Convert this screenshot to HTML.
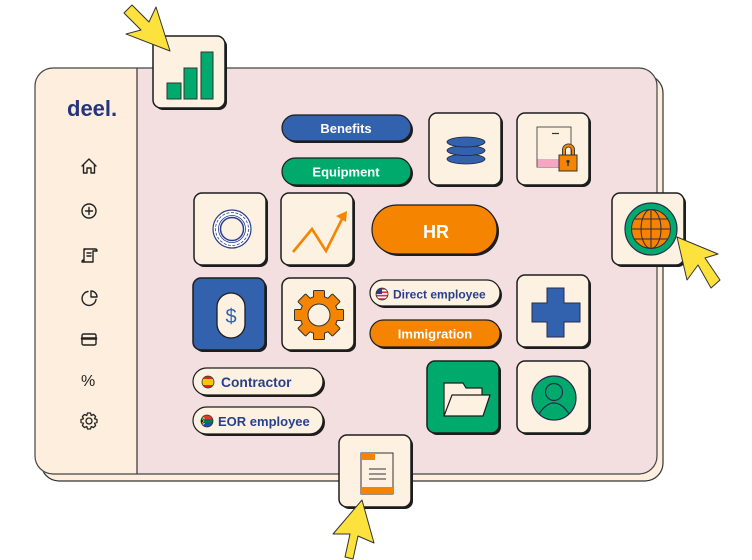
<!DOCTYPE html>
<html><head><meta charset="utf-8"><style>
html,body{margin:0;padding:0;background:#fff;width:752px;height:560px;overflow:hidden}
svg{display:block}
text{font-family:"Liberation Sans",sans-serif;font-weight:bold}
</style></head><body>
<svg width="752" height="560" viewBox="0 0 752 560" xmlns="http://www.w3.org/2000/svg">
<defs>
<clipPath id="cUS"><circle cx="382" cy="294" r="6"/></clipPath>
<clipPath id="cES"><circle cx="208" cy="382" r="6"/></clipPath>
<clipPath id="cZA"><circle cx="207" cy="421" r="6"/></clipPath>
</defs>
<!-- back panel -->
<rect x="41" y="75" width="622" height="406" rx="18" fill="#fdeedd" stroke="#333" stroke-width="1.2"/>
<!-- front panel -->
<rect x="35" y="68" width="622" height="406" rx="18" fill="#f3dfe0"/>
<path d="M137,68 L53,68 Q35,68 35,86 L35,456 Q35,474 53,474 L137,474 Z" fill="#fdeedd"/>
<line x1="137" y1="68" x2="137" y2="474" stroke="#333" stroke-width="1.2"/>
<rect x="35" y="68" width="622" height="406" rx="18" fill="none" stroke="#444" stroke-width="1.2"/>

<!-- logo -->
<text x="67" y="116" font-size="22" fill="#26357b">deel.</text>

<!-- sidebar icons -->
<g fill="none" stroke="#222" stroke-width="1.4" stroke-linejoin="round" stroke-linecap="round">
<path d="M82,166 L89,159 L96,166 M83.5,165 L83.5,173 L87,173 L87,168 L91,168 L91,173 L94.5,173 L94.5,165"/>
<circle cx="89" cy="211" r="7"/><path d="M89,207.5 V214.5 M85.5,211 H92.5"/>
<path d="M84,262 L84,249 L95,249 M86,249 Q84,249 84,251 M95,249 Q97,249 97,251 L93,251 L93,262 L82,262 Q82,260 84,260 M87,253 H91 M87,256 H91"/>
<path d="M88,291.5 A7,7 0 1 0 96,299.5"/><path d="M91,291 L91,297 L97,297 A6,6 0 0 0 91,291 Z"/>
<rect x="82" y="334" width="14" height="11" rx="1.5"/><line x1="82" y1="338.5" x2="96" y2="338.5" stroke-width="2.5"/>
</g>
<text x="81" y="386" font-size="16" font-weight="normal" fill="#222" style="font-weight:normal">%</text>
<g transform="translate(89,421)" fill="none" stroke="#222" stroke-width="1.3" stroke-linejoin="round">
<path d="M-1.5,-8 L1.5,-8 L2.2,-5.5 L4.5,-6.6 L6.6,-4.5 L5.5,-2.2 L8,-1.5 L8,1.5 L5.5,2.2 L6.6,4.5 L4.5,6.6 L2.2,5.5 L1.5,8 L-1.5,8 L-2.2,5.5 L-4.5,6.6 L-6.6,4.5 L-5.5,2.2 L-8,1.5 L-8,-1.5 L-5.5,-2.2 L-6.6,-4.5 L-4.5,-6.6 L-2.2,-5.5 Z"/>
<circle r="3"/>
</g>

<!-- tiles -->
<g stroke="#1d1d1d" stroke-width="1.5">
<g fill="#1d1d1d" stroke="none">
<rect x="155" y="38" width="72" height="72" rx="8"/>
<rect x="431" y="115" width="72" height="72" rx="8"/>
<rect x="519" y="115" width="72" height="72" rx="8"/>
<rect x="196" y="195" width="72" height="72" rx="8"/>
<rect x="283" y="195" width="72" height="72" rx="8"/>
<rect x="614" y="195" width="72" height="72" rx="8"/>
<rect x="195" y="280" width="72" height="72" rx="8"/>
<rect x="284" y="280" width="72" height="72" rx="8"/>
<rect x="519" y="277" width="72" height="72" rx="8"/>
<rect x="429" y="363" width="72" height="72" rx="8"/>
<rect x="519" y="363" width="72" height="72" rx="8"/>
<rect x="341" y="437" width="72" height="72" rx="8"/>
</g>
<rect x="153" y="36" width="72" height="72" rx="8" fill="#fdf2e2"/>
<rect x="429" y="113" width="72" height="72" rx="8" fill="#fdf2e2"/>
<rect x="517" y="113" width="72" height="72" rx="8" fill="#fdf2e2"/>
<rect x="194" y="193" width="72" height="72" rx="8" fill="#fdf2e2"/>
<rect x="281" y="193" width="72" height="72" rx="8" fill="#fdf2e2"/>
<rect x="612" y="193" width="72" height="72" rx="8" fill="#fdf2e2"/>
<rect x="193" y="278" width="72" height="72" rx="8" fill="#3261ad"/>
<rect x="282" y="278" width="72" height="72" rx="8" fill="#fdf2e2"/>
<rect x="517" y="275" width="72" height="72" rx="8" fill="#fdf2e2"/>
<rect x="427" y="361" width="72" height="72" rx="8" fill="#00aa6c"/>
<rect x="517" y="361" width="72" height="72" rx="8" fill="#fdf2e2"/>
<rect x="339" y="435" width="72" height="72" rx="8" fill="#fdf2e2"/>
</g>

<!-- pills -->
<g fill="#1d1d1d">
<rect x="284" y="117" width="129" height="26" rx="13"/>
<rect x="284" y="160" width="129" height="27" rx="13.5"/>
<rect x="374" y="207" width="125" height="49" rx="24.5"/>
<rect x="372" y="282" width="130" height="26" rx="13"/>
<rect x="372" y="322" width="130" height="27" rx="13.5"/>
<rect x="195" y="370" width="130" height="27" rx="13.5"/>
<rect x="195" y="409" width="130" height="27" rx="13.5"/>
</g>
<g stroke="#1d1d1d" stroke-width="1.2">
<rect x="282" y="115" width="129" height="26" rx="13" fill="#3261ad"/>
<rect x="282" y="158" width="129" height="27" rx="13.5" fill="#00aa6c"/>
<rect x="372" y="205" width="125" height="49" rx="24.5" fill="#f58400"/>
<rect x="370" y="280" width="130" height="26" rx="13" fill="#fdf2e2"/>
<rect x="370" y="320" width="130" height="27" rx="13.5" fill="#f58400"/>
<rect x="193" y="368" width="130" height="27" rx="13.5" fill="#fdf2e2"/>
<rect x="193" y="407" width="130" height="27" rx="13.5" fill="#fdf2e2"/>
</g>
<text x="346" y="133" font-size="13" fill="#fff" text-anchor="middle">Benefits</text>
<text x="346" y="176.5" font-size="13" fill="#fff" text-anchor="middle">Equipment</text>
<text x="436" y="238" font-size="18" fill="#fff" text-anchor="middle">HR</text>
<text x="393" y="298.5" font-size="12" fill="#2a3f8c">Direct employee</text>
<text x="435" y="338.5" font-size="13" fill="#fff" text-anchor="middle">Immigration</text>
<text x="221" y="387" font-size="13.8" fill="#2a3f8c">Contractor</text>
<text x="218" y="426" font-size="13" fill="#2a3f8c">EOR employee</text>

<!-- flags -->
<g clip-path="url(#cUS)">
<rect x="375" y="287" width="14" height="14" fill="#fff"/>
<rect x="375" y="288" width="14" height="1.7" fill="#d9333f"/>
<rect x="375" y="291.4" width="14" height="1.7" fill="#d9333f"/>
<rect x="375" y="294.8" width="14" height="1.7" fill="#d9333f"/>
<rect x="375" y="298.2" width="14" height="1.7" fill="#d9333f"/>
<rect x="375" y="287" width="7" height="7" fill="#2a3f8c"/>
</g>
<circle cx="382" cy="294" r="6" fill="none" stroke="#333" stroke-width="0.8"/>
<g clip-path="url(#cES)">
<rect x="201" y="375" width="14" height="14" fill="#d52b1e"/>
<rect x="201" y="379" width="14" height="6" fill="#f7c600"/>
</g>
<circle cx="208" cy="382" r="6" fill="none" stroke="#333" stroke-width="0.8"/>
<g clip-path="url(#cZA)">
<rect x="200" y="414" width="14" height="7" fill="#de3831"/>
<rect x="200" y="421" width="14" height="7" fill="#1d4fb0"/>
<path d="M200,414 L207,421 L214,421 L207,421 L200,428 Z" fill="#fff"/>
<rect x="200" y="419" width="14" height="4" fill="#007a4d"/>
<path d="M200,415 L206,421 L200,427 Z" fill="#007a4d"/>
<path d="M200,416.5 L204.5,421 L200,425.5 Z" fill="#ffb612"/>
<path d="M200,417.5 L203.5,421 L200,424.5 Z" fill="#111"/>
</g>
<circle cx="207" cy="421" r="6" fill="none" stroke="#333" stroke-width="0.8"/>

<!-- chart bars -->
<g fill="#00aa6c" stroke="#333" stroke-width="1">
<rect x="167" y="83" width="14" height="16"/>
<rect x="184" y="68" width="13" height="31"/>
<rect x="201" y="52" width="12" height="47"/>
</g>

<!-- database -->
<g fill="#3261ad" stroke="#223" stroke-width="0.8">
<ellipse cx="466" cy="159" rx="19" ry="5"/>
<ellipse cx="466" cy="150.5" rx="19" ry="5"/>
<ellipse cx="466" cy="142" rx="19" ry="5"/>
</g>

<!-- lock doc -->
<rect x="537" y="127" width="34" height="40" fill="#fdf2e2" stroke="#555" stroke-width="1"/>
<rect x="537.5" y="159" width="33" height="8" fill="#f4a6c3"/>
<line x1="552" y1="133.5" x2="559" y2="133.5" stroke="#333" stroke-width="1.2"/>
<path d="M564,157 L564,150 A4.5,4.5 0 0 1 573,150 L573,157" fill="none" stroke="#333" stroke-width="4"/>
<path d="M564,157 L564,150 A4.5,4.5 0 0 1 573,150 L573,157" fill="none" stroke="#f58400" stroke-width="2.2"/>
<rect x="559" y="155" width="18" height="16" fill="#f58400" stroke="#333" stroke-width="1"/>
<circle cx="568" cy="161.5" r="1.6" fill="#333"/><rect x="567.3" y="162" width="1.4" height="4" fill="#333"/>

<!-- circle ring -->
<g fill="none" stroke="#2a3f8c">
<circle cx="232" cy="229" r="19" fill="#fff" stroke-width="1.2"/>
<circle cx="232" cy="229" r="16.5" stroke-width="0.8" stroke-dasharray="3 1.5"/>
<circle cx="232" cy="229" r="13.5" stroke-width="0.8"/>
<circle cx="232" cy="229" r="11.5" fill="#fdf2e2" stroke-width="1.5"/>
</g>

<!-- trend -->
<polyline points="293,252 312,229 326,251 343,217" fill="none" stroke="#f58400" stroke-width="2.6" stroke-linejoin="miter"/>
<polygon points="347,211 346,222 336,216" fill="#f58400"/>

<!-- globe -->
<circle cx="651" cy="229" r="26" fill="#00aa6c" stroke="#2a2a4a" stroke-width="1.2"/>
<circle cx="651" cy="229" r="19.5" fill="#f58400" stroke="#2a2a4a" stroke-width="1"/>
<g fill="none" stroke="#2a2a4a" stroke-width="1">
<line x1="651" y1="209.5" x2="651" y2="248.5"/>
<ellipse cx="651" cy="229" rx="10" ry="19.5"/>
<line x1="631.5" y1="229" x2="670.5" y2="229"/>
<line x1="634" y1="219" x2="668" y2="219"/>
<line x1="634" y1="239" x2="668" y2="239"/>
</g>

<!-- dollar -->
<rect x="217" y="293" width="28" height="45" rx="14" fill="#fdf2e2" stroke="#1d1d1d" stroke-width="1.3"/>
<text x="231" y="323" font-size="20" fill="#3261ad" text-anchor="middle" style="font-weight:normal">$</text>

<!-- gear -->
<g transform="translate(319,315)">
<g fill="#333">
<circle r="19.5"/>
<g id="teeth">
<rect x="-6" y="-25" width="12" height="10" rx="1.5"/>
<rect x="-6" y="-25" width="12" height="10" rx="1.5" transform="rotate(45)"/>
<rect x="-6" y="-25" width="12" height="10" rx="1.5" transform="rotate(90)"/>
<rect x="-6" y="-25" width="12" height="10" rx="1.5" transform="rotate(135)"/>
<rect x="-6" y="-25" width="12" height="10" rx="1.5" transform="rotate(180)"/>
<rect x="-6" y="-25" width="12" height="10" rx="1.5" transform="rotate(225)"/>
<rect x="-6" y="-25" width="12" height="10" rx="1.5" transform="rotate(270)"/>
<rect x="-6" y="-25" width="12" height="10" rx="1.5" transform="rotate(315)"/>
</g>
</g>
<g fill="#f58400">
<circle r="18.5"/>
<rect x="-5" y="-24" width="10" height="9"/>
<rect x="-5" y="-24" width="10" height="9" transform="rotate(45)"/>
<rect x="-5" y="-24" width="10" height="9" transform="rotate(90)"/>
<rect x="-5" y="-24" width="10" height="9" transform="rotate(135)"/>
<rect x="-5" y="-24" width="10" height="9" transform="rotate(180)"/>
<rect x="-5" y="-24" width="10" height="9" transform="rotate(225)"/>
<rect x="-5" y="-24" width="10" height="9" transform="rotate(270)"/>
<rect x="-5" y="-24" width="10" height="9" transform="rotate(315)"/>
</g>
<circle r="11" fill="#fdf2e2" stroke="#333" stroke-width="1"/>
</g>

<!-- plus -->
<path d="M547,288 L564,288 L564,303 L580,303 L580,322 L564,322 L564,337 L547,337 L547,322 L532,322 L532,303 L547,303 Z" fill="#3261ad" stroke="#2a2a4a" stroke-width="1"/>

<!-- folder -->
<path d="M444,416 L444,383 L463,383 L466,388 L482,388 L482,395" fill="#fdf2e2" stroke="#1d1d1d" stroke-width="1.2" stroke-linejoin="round"/>
<path d="M444,416 L452,395 L490,395 L483,416 Z" fill="#fdf2e2" stroke="#1d1d1d" stroke-width="1.2" stroke-linejoin="round"/>

<!-- person -->
<circle cx="554" cy="398" r="22" fill="#00aa6c" stroke="#2a2a4a" stroke-width="1.2"/>
<circle cx="554" cy="392" r="8.5" fill="none" stroke="#2a2a4a" stroke-width="1.2"/>
<path d="M539,414 Q546,403 554,403 Q562,403 569,414" fill="none" stroke="#2a2a4a" stroke-width="1.2"/>

<!-- document -->
<rect x="361" y="453" width="32" height="41" fill="#fdf2e2" stroke="#333" stroke-width="1"/>
<rect x="361" y="453" width="14" height="7" fill="#f58400"/>
<rect x="361" y="487" width="32" height="7" fill="#f58400"/>
<g stroke="#333" stroke-width="1"><line x1="369" y1="469" x2="386" y2="469"/><line x1="369" y1="474" x2="386" y2="474"/><line x1="369" y1="479" x2="386" y2="479"/></g>

<!-- cursors -->
<g fill="#fde23e" stroke="#333" stroke-width="1" stroke-linejoin="round">
<polygon points="170,51 126,34 141,30 124,13 132,5 149,22 156,7"/>
<polygon points="677,237 718,254 705,258 720,280 711,288 698,265 687,280"/>
<polygon points="362,500 374,543 358,536 353,559 345,557 350,534 333,534"/>
</g>
</svg>
</body></html>
